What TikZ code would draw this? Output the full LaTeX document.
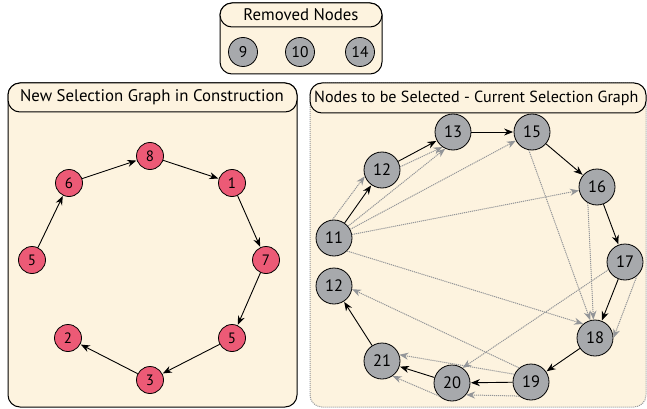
\documentclass[tikz,border=0pt]{standalone}
\usepackage{fontspec}
\setmainfont{PT Sans}
\usetikzlibrary{arrows.meta}
\definecolor{cream}{HTML}{FDF3DF}
\definecolor{pinkred}{HTML}{EC5A76}
\definecolor{nodegray}{HTML}{A7A9AC}
\definecolor{linegray}{HTML}{939598}
\begin{document}
\begin{tikzpicture}[x=1pt,y=-1pt,
    panel/.style={fill=cream,rounded corners=12pt,line width=1pt},
    band/.style={draw=black,fill=cream,rounded corners=12pt,line width=1pt},
    title/.style={font=\fontsize{16.8}{19}\selectfont,inner sep=0pt},
    rnode/.style={circle,draw,fill=pinkred,line width=0.8pt,minimum size=27pt,inner sep=0pt,font=\fontsize{15}{15}\selectfont},
    gnode/.style={circle,draw,fill=nodegray,line width=0.8pt,minimum size=36pt,inner sep=0pt,font=\fontsize{16.5}{16.5}\selectfont},
    xnode/.style={gnode,minimum size=29pt,font=\fontsize{15.5}{15.5}\selectfont},
    sel/.style={-{Stealth[length=9pt,width=7pt]},line width=0.9pt,shorten >=0.5pt},
    alt/.style={-{Stealth[length=9pt,width=7pt]},draw=linegray,densely dotted,line width=1pt,fill=linegray}]
    \useasboundingbox (0,0) rectangle (647,409);

    % Removed nodes
    \draw[panel,draw=black] (220,3) rectangle (382,74);
    \draw[band] (220,3) rectangle (382,27);
    \node[title] (removed) at (301,15) {Removed Nodes};
    \foreach \n/\x in {9/243, 10/300, 14/360}
        \node[xnode] (r\n) at (\x,52) {\n};

    % New selection graph
    \draw[panel,draw=black] (8,83) rectangle (297,407);
    \draw[band] (8,83) rectangle (297,112);
    \node[title] (newtitle) at (152,97) {New Selection Graph in Construction};
    \node[rnode] (a5) at (32,260) {5};
    \node[rnode] (a6) at (69,183) {6};
    \node[rnode] (a8) at (150,156) {8};
    \node[rnode] (a1) at (232,183) {1};
    \node[rnode] (a7) at (266,260) {7};
    \node[rnode] (b5) at (232,338) {5};
    \node[rnode] (a3) at (150,380) {3};
    \node[rnode] (a2) at (68,338) {2};
    \foreach \a/\b in {a5/a6, a6/a8, a8/a1, a1/a7, a7/b5, b5/a3, a3/a2}
        \draw[sel] (\a) -- (\b);

    % Current selection graph
    \draw[panel,draw=linegray,densely dotted] (310,83) rectangle (646,407);
    \draw[band] (310,83) rectangle (646,113);
    \node[title,anchor=west,font=\fontsize{16.1}{19}\selectfont] (curtitle) at (314,98) {Nodes to be Selected - Current Selection Graph};
    \node[gnode] (n11) at (334,238) {11};
    \node[gnode] (n12) at (382,170) {12};
    \node[gnode] (n13) at (453,132) {13};
    \node[gnode] (n15) at (532,132) {15};
    \node[gnode] (n16) at (597,187) {16};
    \node[gnode] (n17) at (625,262) {17};
    \node[gnode] (n18) at (595,338) {18};
    \node[gnode] (n19) at (531,382) {19};
    \node[gnode] (n20) at (452,383) {20};
    \node[gnode] (n21) at (382,361) {21};
    \node[gnode] (m12) at (334,286) {12};

    % dotted edges
    \draw[alt] (n11.95) -- (n12.200);
    \draw[alt] (n12.10) -- (n13.235);
    \draw[alt] (n11.40) -- (n13.245);
    \draw[alt] (n11) -- (n15);
    \draw[alt] (n11) -- (n16);
    \draw[alt] (n11.-45) -- (n18.130);
    \draw[alt] (n15.260) -- (n18.105);
    \draw[alt] (n16.240) -- (n18.95);
    \draw[alt] (n17.-50) -- (n18.0);
    \draw[alt] (n17.205) -- (n20.55);
    \draw[alt] (n19.230) -- (n20.-40);
    \draw[alt] (n19.155) -- (n21.20);
    \draw[alt] (n19.130) -- (m12.-10);
    \draw[alt] (n20.225) -- (n21.-55);

    % solid edges
    \foreach \a/\b in {n11/n12, n12/n13, n13/n15, n15/n16, n16/n17, n17/n18, n18/n19, n19/n20, n20/n21, n21/m12}
        \draw[sel] (\a) -- (\b);
\end{tikzpicture}
\end{document}
